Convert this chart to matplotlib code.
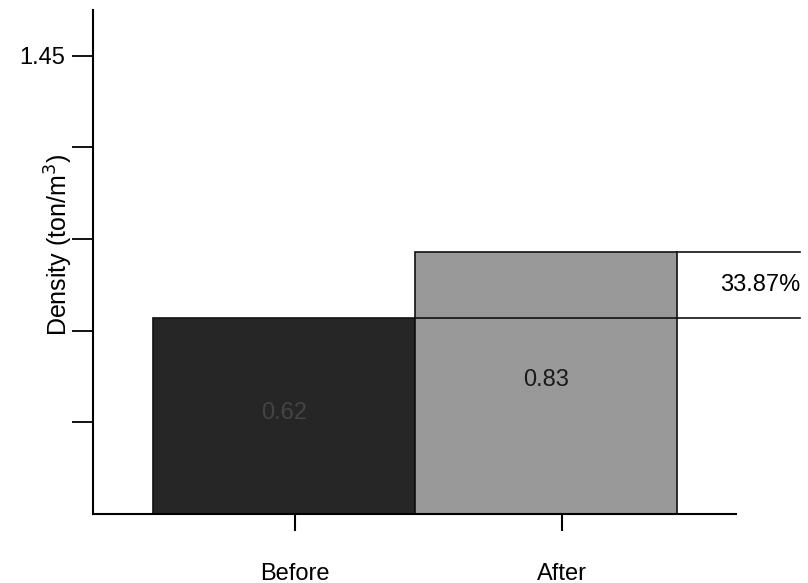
import matplotlib
matplotlib.use('Agg')
import matplotlib.pyplot as plt

plt.rcParams['font.family'] = ['Liberation Sans', 'DejaVu Sans']

# data
categories = ['Before', 'After']
density = [0.62, 0.83]
value_labels = ['0.62', '0.83']
change_label = '33.87%'
ytick_vals = [0.29, 0.58, 0.87, 1.16, 1.45]
ytick_labels = ['', '', '', '', '1.45']

fig = plt.figure(figsize=(8.08, 5.83), dpi=100)
ax = fig.add_axes([0.1151, 0.1184, 0.7959, 0.8645])

colors = ['#262626', '#999999']
xs = [0, 1]
ax.bar(xs, density, width=1.0, align='edge', color=colors,
       edgecolor='#111111', linewidth=1.2)

# value labels in the middle of the bars
ax.text(0.5, density[0] / 2 + 0.01, value_labels[0], ha='center', va='center',
        fontsize=17, color='#444444')
ax.text(1.5, density[1] / 2 + 0.01, value_labels[1], ha='center', va='center',
        fontsize=17, color='#1a1a1a')

# bracket showing the increase
ax.plot([1, 2.47], [density[0], density[0]], color='#111111', lw=1.2, clip_on=False)
ax.plot([2, 2.47], [density[1], density[1]], color='#111111', lw=1.2, clip_on=False)
ax.text(2.47, (density[0] + density[1]) / 2, change_label, ha='right', va='center',
        fontsize=17, clip_on=False)

ax.set_xlim(-0.229, 2.225)
ax.set_ylim(0, 1.595)

ax.set_xticks([0.54, 1.56])
ax.set_xticklabels(categories, fontsize=17)
ax.tick_params(axis='x', direction='out', length=12, width=1.5, pad=23)

ax.set_yticks(ytick_vals)
ax.set_yticklabels(ytick_labels, fontsize=17)
ax.tick_params(axis='y', direction='out', length=15, width=1.3, pad=5)

fig.text(59 / 808, 1 - 245 / 583, 'Density (ton/m$^3$)', rotation=90,
         ha='center', va='center', fontsize=18)

for s in ['top', 'right']:
    ax.spines[s].set_visible(False)
for s in ['left', 'bottom']:
    ax.spines[s].set_linewidth(1.5)

fig.savefig('out.png', dpi=100)
